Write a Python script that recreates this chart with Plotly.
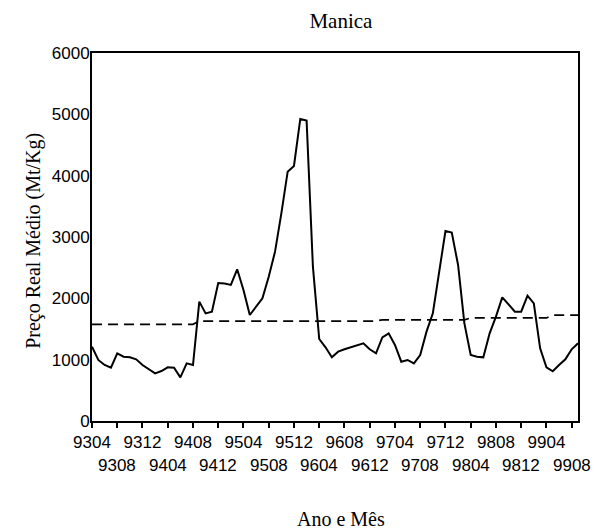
import plotly.graph_objects as go

# Months Apr 1993 .. Sep 1999 as YYMM labels
months = [f"{y:02d}{m:02d}" for y in range(93, 100) for m in range(1, 13)]
months = months[months.index("9304"):months.index("9909") + 1]

price = [1212, 995, 913, 870, 1103, 1049, 1038, 1005, 913, 848,
         777, 815, 875, 870, 712, 940, 913, 1946, 1755, 1783,
         2250, 2240, 2218, 2473, 2136, 1728, 1864, 2000, 2353, 2761,
         3386, 4065, 4158, 4924, 4897, 2516, 1337, 1201, 1038, 1130,
         1170, 1201, 1228, 1266, 1169, 1103, 1364, 1429, 1239, 967,
         995, 940, 1076, 1457, 1755, 2462, 3098, 3071, 2544, 1592,
         1076, 1049, 1038, 1429, 1701, 2016, 1902, 1783, 1783, 2044,
         1919, 1185, 875, 810, 913, 1005, 1169, 1266]

trend = [1575, 1575, 1575, 1575, 1575, 1575, 1575, 1575, 1575, 1575,
         1575, 1575, 1575, 1575, 1575, 1575, 1575, 1630, 1630, 1630,
         1630, 1630, 1630, 1630, 1630, 1630, 1630, 1630, 1630, 1630,
         1630, 1630, 1630, 1630, 1630, 1630, 1630, 1630, 1630, 1630,
         1630, 1630, 1630, 1630, 1630, 1630, 1650, 1650, 1650, 1650,
         1650, 1650, 1650, 1650, 1650, 1650, 1650, 1650, 1650, 1650,
         1680, 1680, 1680, 1680, 1680, 1680, 1680, 1680, 1680, 1680,
         1680, 1680, 1680, 1725, 1725, 1725, 1725, 1725]

top_row = ["9304", "9312", "9408", "9504", "9512", "9608", "9704", "9712", "9808", "9904"]
bottom_row = ["9308", "9404", "9412", "9508", "9604", "9612", "9708", "9804", "9812", "9908"]
tick_vals = ["9304", "9308", "9312", "9404", "9408", "9412", "9504", "9508", "9512", "9604",
             "9608", "9612", "9704", "9708", "9712", "9804", "9808", "9812", "9904", "9908"]
y_ticks = [0, 1000, 2000, 3000, 4000, 5000, 6000]

fig = go.Figure()
fig.add_trace(go.Scatter(x=months, y=trend, mode="lines",
                         line=dict(color="black", width=1.8, dash="10px,6px"),
                         hoverinfo="skip"))
fig.add_trace(go.Scatter(x=months, y=price, mode="lines",
                         line=dict(color="black", width=2)))

sans = "Liberation Sans, Arial, sans-serif"
serif = "Liberation Serif, Times New Roman, serif"

fig.update_layout(
    width=597, height=532,
    margin=dict(l=92, r=19, t=53, b=111),
    paper_bgcolor="white", plot_bgcolor="white",
    showlegend=False,
    title=dict(text="Manica", x=0.571, xanchor="center", y=0.9605, yanchor="middle",
               font=dict(family=serif, size=21, color="black")),
    xaxis=dict(type="category", range=[0, len(months) - 1],
               tickmode="array", tickvals=tick_vals,
               ticktext=[t if t in top_row else "" for t in tick_vals],
               ticks="outside", ticklen=5, tickwidth=2, tickcolor="black",
               showline=True, linecolor="black", linewidth=2, mirror=True,
               showgrid=False, zeroline=False,
               tickfont=dict(family=sans, size=17, color="black")),
    yaxis=dict(range=[0, 6000], tickvals=y_ticks,
               ticks="", showline=True, linecolor="black", linewidth=2, mirror=True,
               showgrid=False, zeroline=False, ticklabelstandoff=-3,
               tickfont=dict(family=sans, size=17, color="black")),
)

for lab in bottom_row:
    fig.add_annotation(x=months.index(lab), xref="x", y=-0.122, yref="paper", text=lab,
                       showarrow=False, xanchor="center", yanchor="middle",
                       font=dict(family=sans, size=17, color="black"))

fig.add_annotation(x=0.512, xref="paper", y=-0.267, yref="paper", text="Ano e Mês",
                   showarrow=False, xanchor="center", yanchor="middle",
                   font=dict(family=serif, size=20, color="black"))
fig.add_annotation(x=-0.121, xref="paper", y=0.49, yref="paper",
                   text="Preço Real Médio (Mt/Kg)", textangle=-90,
                   showarrow=False, xanchor="center", yanchor="middle",
                   font=dict(family=serif, size=20, color="black"))

fig.write_html("out.html", config={"displayModeBar": False},
               post_script="document.body.style.margin='0';")
